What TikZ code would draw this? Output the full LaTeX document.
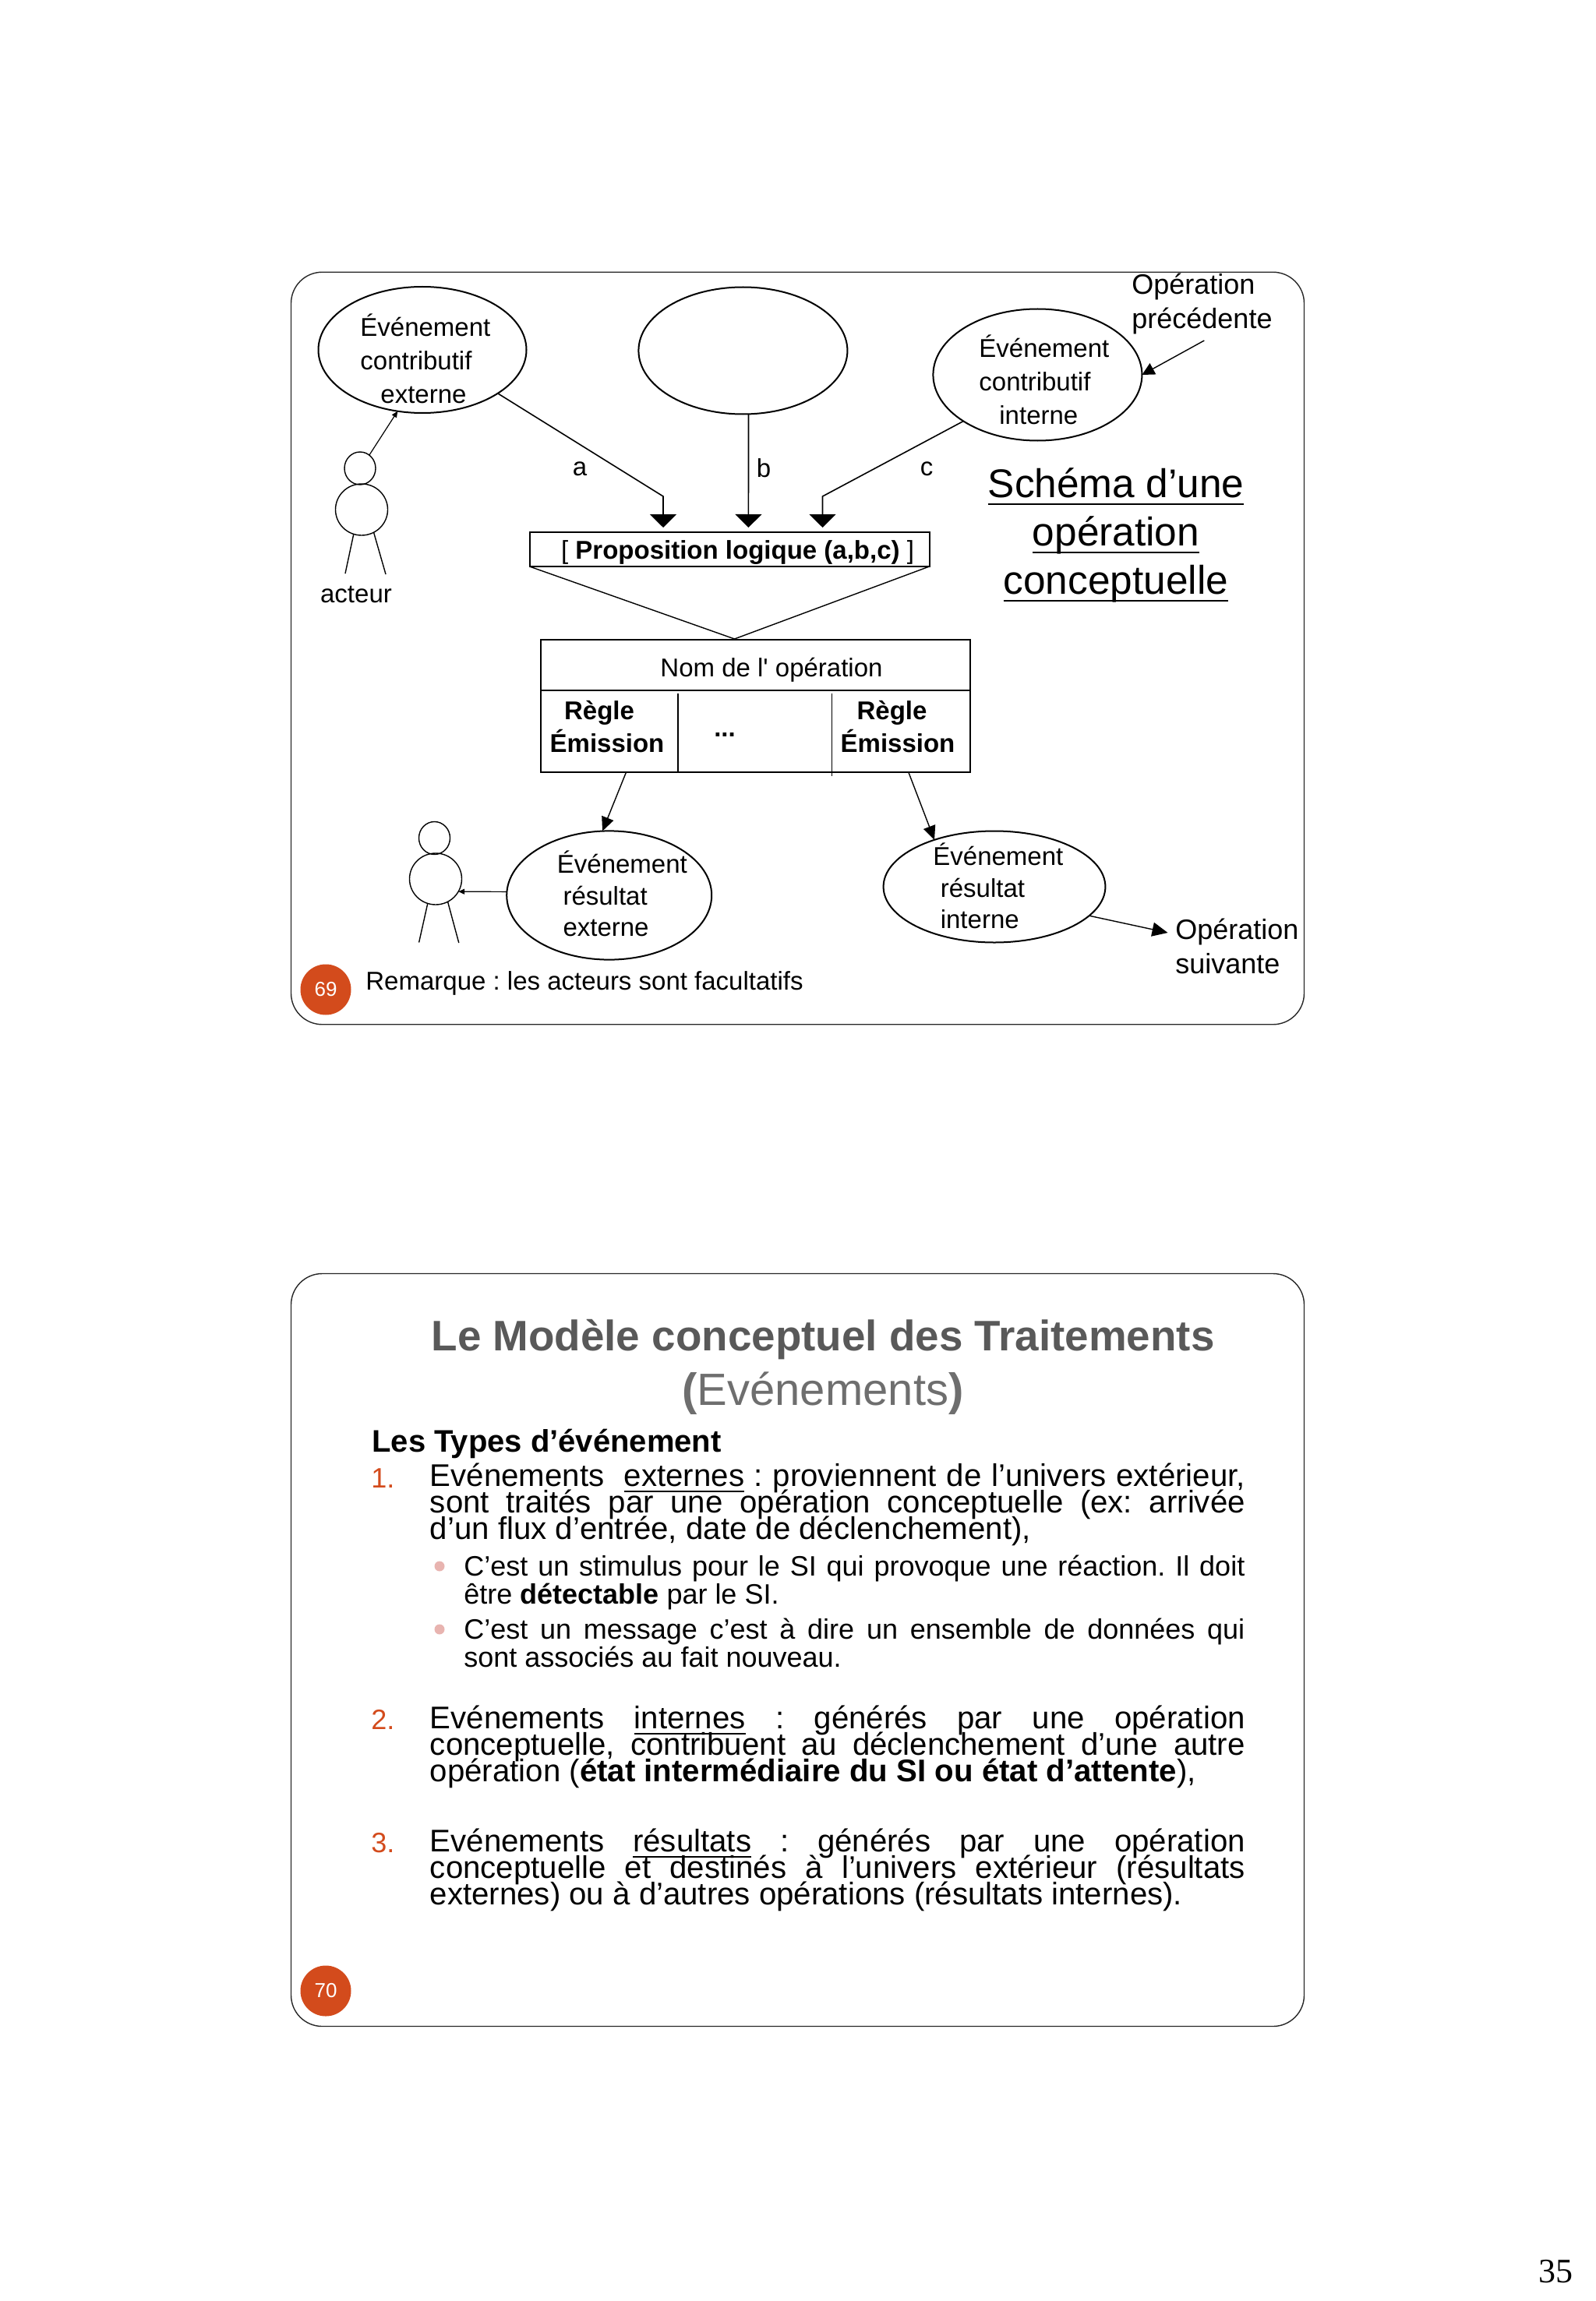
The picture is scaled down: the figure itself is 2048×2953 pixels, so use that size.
\documentclass[tikz,border=0pt]{standalone}
\usepackage{fontspec}
\usepackage{xcolor}
\usetikzlibrary{arrows.meta,positioning,shapes.geometric}
\setmainfont{Liberation Sans}
\newfontfamily\pagefont{Liberation Serif}
\newfontfamily\plainfont{Liberation Sans}
\definecolor{rouille}{HTML}{D34B1C}
\definecolor{rose}{HTML}{E8B4B0}
\definecolor{titre}{HTML}{595959}
\definecolor{titreclair}{HTML}{6E6E6E}
\newcommand{\trait}[2][1pt]{\setbox0\hbox{#2}\rlap{\raisebox{-.19em}{\rule{\wd0}{#1}}}\box0\relax}
\newcommand{\fs}[2]{\fontsize{#1}{#2}\selectfont\lineskiplimit=-30pt\frenchspacing}

\begin{document}
\begin{tikzpicture}[x=0.5pt,y=-0.5pt, every node/.style={font=\fs{16.5}{21.5}}, slide/.style={draw=black!85,line width=0.7pt,rounded corners=20pt,minimum width=650pt,inner sep=0pt}, evt/.style={ellipse,draw,line width=1pt,inner sep=0pt,outer sep=0pt}, part/.style={ellipse,draw,line width=0.7pt,inner sep=0pt,outer sep=0pt}, txt/.style={inner sep=0pt,align=left,anchor=west}, badge/.style={circle,fill=rouille,text=white,minimum size=32.5pt,inner sep=0pt,font=\fs{13}{15}}, item/.style={inner sep=0pt,anchor=north west,text width=523pt,align=justify,font=\fs{20.1}{17}}, sub/.style={inner sep=0pt,anchor=north west,text width=501pt,align=justify,font=\fs{18}{17.6}}, num/.style={inner sep=0pt,anchor=west,text=rouille,font=\fs{18}{20}}, dot/.style={circle,fill=rose,minimum size=6.5pt,inner sep=0pt}, big/.style={-{Triangle[length=8.5pt,width=17pt]},line width=0.8pt}, arr/.style={-{Triangle[length=8pt,width=8pt]},line width=0.7pt}, fin/.style={-{Triangle[length=4pt,width=3.5pt]},line width=0.6pt}]
\useasboundingbox (0,0) rectangle (2048,2953);
% premiere diapositive
\node[slide,minimum height=482.75pt] (slidea) at (1023.5,832) {};
\node[evt,minimum width=133.5pt,minimum height=81pt] (evext) at (542,449) {};
\node[evt,minimum width=134pt,minimum height=81.5pt] (evvide) at (953.4,450) {};
\node[evt,minimum width=134pt,minimum height=84.5pt] (evint) at (1331.4,481) {};
\node[txt] (evexttxt) at (462,460) {Événement\\contributif\\\hspace*{13pt}externe};
\node[txt] (evinttxt) at (1256,487) {Événement\\contributif\\\hspace*{13pt}interne};
\node[draw,line width=1pt,minimum width=256.5pt,minimum height=22pt,inner sep=0pt,outer sep=0pt] (prop) at (936,705) {};
\node[inner sep=0pt] (proptxt) at (946.5,709) {[ \textbf{Proposition logique (a,b,c)} ]};
\node[draw,line width=1pt,minimum width=275.5pt,minimum height=85pt,inner sep=0pt,outer sep=0pt] (op) at (969.5,906) {};
\node[inner sep=0pt] (optxt) at (990,860) {Nom de l{\plainfont'} opération};
\node[txt,align=center,anchor=center,font=\bfseries\fs{16.5}{21}] (regleg) at (779,933) {Règle\hspace*{10pt}\\Émission};
\node[txt,align=center,anchor=center,font=\bfseries\fs{16.5}{21}] (regled) at (1152,933) {Règle\hspace*{7.5pt}\\Émission};
\node[inner sep=0pt] (dots) at (930,943) {\textbf{...}};
\node[part,minimum width=20pt,minimum height=21pt] (tetea) at (462,601) {};
\node[part,minimum width=33.5pt,minimum height=33pt] (corpsa) at (464,654) {};
\node[part,minimum width=20pt,minimum height=21pt] (teteb) at (557.5,1075.5) {};
\node[part,minimum width=33.5pt,minimum height=33pt] (corpsb) at (559,1128) {};
\node[evt,minimum width=131.5pt,minimum height=82.6pt] (resext) at (781.7,1149) {};
\node[evt,minimum width=142.4pt,minimum height=71.5pt] (resint) at (1276,1138) {};
\node[txt,font=\fs{16.5}{20.3}] (resexttxt) at (714.5,1147) {Événement\\\hspace*{3.8pt}résultat\\\hspace*{3.8pt}externe};
\node[txt,font=\fs{16.5}{20.3}] (resinttxt) at (1197,1137) {Événement\\\hspace*{4.7pt}résultat\\\hspace*{4.7pt}interne};
\node[inner sep=0pt] (acteur) at (457,763) {acteur};
\node[inner sep=0pt] (la) at (744,602) {a};
\node[inner sep=0pt] (lb) at (980,601) {b};
\node[inner sep=0pt] (lc) at (1189,602) {c};
\node[txt,font=\fs{18}{22}] (opprec) at (1452,390) {Opération\\précédente};
\node[txt,font=\fs{18}{22}] (opsuiv) at (1508,1214) {Opération\\suivante};
\node[inner sep=0pt,align=center,font=\fs{25.7}{31}] (schema) at (1432,687) {\trait[1.4pt]{Schéma d’une}\\\trait[1.4pt]{opération}\\\trait[1.4pt]{conceptuelle}};
\node[txt,anchor=west] (remarque) at (469,1262) {Remarque : les acteurs sont facultatifs};
\node[badge] (numa) at (418,1270) {69};
% reperes
\coordinate (ka) at (851,637); \coordinate (ta) at (851,677);
\coordinate (tb) at (960.4,677);
\coordinate (kc) at (1055.5,637); \coordinate (tc) at (1055.5,677);
\coordinate (pointe) at (942.5,820);
\coordinate (prec) at (1545.3,437);
\coordinate (sepgh) at (870,890); \coordinate (sepgb) at (870,991);
\coordinate (sepdh) at (1067.5,890); \coordinate (sepdb) at (1067.5,995.6);
\coordinate (sortg) at (803.5,991); \coordinate (sortd) at (1165.8,991);
\coordinate (suiv) at (1498.5,1197);
\coordinate (piedag) at (443,736); \coordinate (piedad) at (495,737);
\coordinate (piedbg) at (537.6,1209.5); \coordinate (piedbd) at (588.8,1210);
\draw[big] (evext.-30) -- (ka) -- (ta);
\draw[big] (evvide.-85) -- (tb);
\draw[big] (evint.212) -- (kc) -- (tc);
\draw[line width=0.7pt] (prop.south west) -- (pointe) -- (prop.south east);
\draw[line width=0.8pt] (op.west |- 0,886) -- (op.east |- 0,886);
\draw[line width=0.8pt] (sepgh) -- (sepgb);
\draw[line width=0.8pt] (sepdh) -- (sepdb);
\draw[fin] (tetea.55) -- (evext.248);
\draw[line width=0.7pt] (corpsa.-108) -- (piedag);
\draw[line width=0.7pt] (corpsa.-62) -- (piedad);
\draw[line width=0.7pt] (corpsb.-108) -- (piedbg);
\draw[line width=0.7pt] (corpsb.-62) -- (piedbd);
\draw[arr] (prec) -- (evint.0);
\draw[arr,-{Triangle[length=9pt,width=8pt]}] (sortg) -- (resext.96);
\draw[arr,-{Triangle[length=9pt,width=8pt]}] (sortd) -- (resint.142);
\draw[fin] (resext.178) -- (corpsb.-29);
\draw[arr,-{Triangle[length=10pt,width=9pt]}] (resint.-17.5) -- (suiv);
% seconde diapositive
\node[slide,minimum height=483pt] (slideb) at (1023.5,2117.5) {};
\node[inner sep=0pt,text=titre,font=\bfseries\fs{27.4}{32}] (titrea) at (1056,1719) {Le Modèle conceptuel des Traitements};
\node[inner sep=0pt,text=titreclair,font=\fs{29}{32}] (titreb) at (1056,1788) {\textbf{(}Evénements\textbf{)}};
\node[txt,font=\bfseries\fs{20}{22}] (types) at (477,1853) {Les Types d’événement};
\node[num] (una) at (476,1897) {1.};
\node[item] (ita) at (551.5,1877) {Evénements\ \ \trait{externes} : proviennent de l’univers extérieur,\linebreak sont traités par une opération conceptuelle (ex: arrivée\linebreak d’un flux d’entrée, date de déclenchement),};
\node[dot] (da) at (564,2010) {};
\node[sub] (suba) at (595,1996) {C’est un stimulus pour le SI qui provoque une réaction. Il doit\linebreak être \textbf{détectable} par le SI.};
\node[dot] (db) at (564,2091) {};
\node[sub] (subb) at (595,2077) {C’est un message c’est à dire un ensemble de données qui\linebreak sont associés au fait nouveau.};
\node[num] (deux) at (476,2207) {2.};
\node[item] (itb) at (551.5,2188) {Evénements \trait{internes} : générés par une opération\linebreak conceptuelle, contribuent au déclenchement d’une autre\linebreak opération (\textbf{état intermédiaire du SI ou état d’attente}),};
\node[num] (trois) at (476,2365) {3.};
\node[item] (itc) at (551.5,2346) {Evénements \trait{résultats} : générés par une opération\linebreak conceptuelle et destinés à l’univers extérieur (résultats\linebreak externes) ou à d’autres opérations (résultats internes).};
\node[badge] (numb) at (418,2555) {70};
\node[inner sep=0pt,font=\pagefont\fs{22}{24}] (folio) at (1996,2915) {35};
\end{tikzpicture}
\end{document}
